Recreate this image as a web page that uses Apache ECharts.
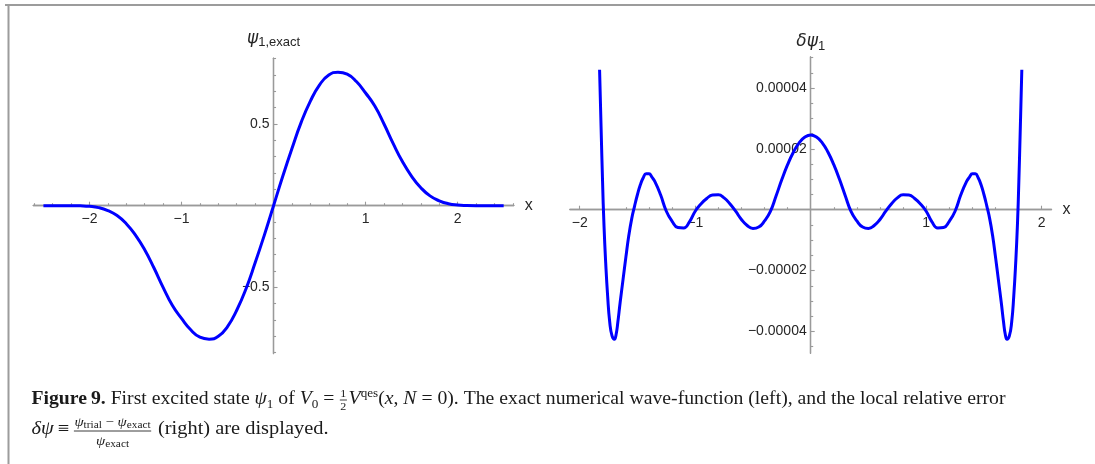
<!DOCTYPE html>
<html>
<head>
<meta charset="utf-8">
<script src="https://cdn.jsdelivr.net/npm/echarts@6/dist/echarts.min.js"></script>
<style>
  html, body { margin: 0; padding: 0; background: #ffffff; }
  #chart { width: 1095px; height: 464px; }
</style>
</head>
<body>
<div id="chart"></div>
<script>
// Exact first excited state, sampled every 0.1 on [-2.5, 2.5]
const psiX = [-2.5, -2.4, -2.3, -2.2, -2.1, -2.0, -1.9, -1.8, -1.7, -1.6, -1.5, -1.4, -1.3, -1.2, -1.1,
  -1.0, -0.9, -0.8, -0.7, -0.6, -0.5, -0.4, -0.3, -0.2, -0.1, 0,
  0.1, 0.2, 0.3, 0.4, 0.5, 0.6, 0.7, 0.8, 0.9, 1.0, 1.1, 1.2, 1.3, 1.4, 1.5, 1.6, 1.7, 1.8, 1.9,
  2.0, 2.1, 2.2, 2.3, 2.4, 2.5];
const psiY = [0, 0, 0, 0, -0.001, -0.004, -0.012, -0.03, -0.06, -0.11, -0.18, -0.27, -0.38, -0.50, -0.61,
  -0.69, -0.76, -0.805, -0.817, -0.80, -0.74, -0.64, -0.51, -0.35, -0.18, 0,
  0.18, 0.35, 0.51, 0.64, 0.74, 0.80, 0.817, 0.805, 0.76, 0.69, 0.61, 0.50, 0.38, 0.27, 0.18, 0.11, 0.06, 0.03, 0.012,
  0.004, 0.001, 0, 0, 0, 0];

// Local relative error of the trial function
const errX = [-1.828, -1.815, -1.802, -1.790, -1.775, -1.758, -1.740, -1.720, -1.700, -1.685, -1.670, -1.650,
  -1.625, -1.600, -1.575, -1.550, -1.525, -1.500, -1.475, -1.450, -1.425, -1.400, -1.375, -1.350, -1.300,
  -1.250, -1.200, -1.150, -1.100, -1.050, -1.000, -0.950, -0.900, -0.850, -0.800, -0.750, -0.700, -0.650,
  -0.600, -0.550, -0.500, -0.450, -0.400, -0.350, -0.300, -0.250, -0.200, -0.150, -0.100, -0.050, 0,
  0.050, 0.100, 0.150, 0.200, 0.250, 0.300, 0.350, 0.400, 0.450, 0.500, 0.550, 0.600, 0.650, 0.700, 0.750,
  0.800, 0.850, 0.900, 0.950, 1.000, 1.050, 1.100, 1.150, 1.200, 1.250, 1.300, 1.350, 1.375, 1.400, 1.425,
  1.450, 1.475, 1.500, 1.525, 1.550, 1.575, 1.600, 1.625, 1.650, 1.670, 1.685, 1.700, 1.720, 1.740, 1.758,
  1.775, 1.790, 1.802, 1.815, 1.828];
const errY = [4.60e-5, 2.70e-5, 0.90e-5, -0.50e-5, -1.75e-5, -2.85e-5, -3.70e-5, -4.15e-5, -4.26e-5, -4.10e-5, -3.70e-5, -3.05e-5,
  -2.30e-5, -1.55e-5, -0.85e-5, -0.30e-5, 0.12e-5, 0.50e-5, 0.82e-5, 1.05e-5, 1.18e-5, 1.18e-5, 1.07e-5, 0.93e-5, 0.49e-5,
  -0.05e-5, -0.38e-5, -0.585e-5, -0.60e-5, -0.40e-5, -0.05e-5, 0.19e-5, 0.37e-5, 0.48e-5, 0.49e-5, 0.39e-5, 0.195e-5, -0.05e-5,
  -0.32e-5, -0.52e-5, -0.615e-5, -0.57e-5, -0.37e-5, -0.066e-5, 0.45e-5, 0.99e-5, 1.48e-5, 1.89e-5, 2.20e-5, 2.39e-5, 2.46e-5,
  2.39e-5, 2.20e-5, 1.89e-5, 1.48e-5, 0.99e-5, 0.45e-5, -0.066e-5, -0.37e-5, -0.57e-5, -0.615e-5, -0.52e-5, -0.32e-5, -0.05e-5, 0.195e-5, 0.39e-5,
  0.49e-5, 0.48e-5, 0.37e-5, 0.19e-5, -0.05e-5, -0.40e-5, -0.60e-5, -0.585e-5, -0.38e-5, -0.05e-5, 0.49e-5, 0.93e-5, 1.07e-5, 1.18e-5, 1.18e-5,
  1.05e-5, 0.82e-5, 0.50e-5, 0.12e-5, -0.30e-5, -0.85e-5, -1.55e-5, -2.30e-5, -3.05e-5, -3.70e-5, -4.10e-5, -4.26e-5, -4.15e-5, -3.70e-5, -2.85e-5,
  -1.75e-5, -0.50e-5, 0.90e-5, 2.70e-5, 4.60e-5];

// Tick positions
const psiXMajor = [-2, -1, 1, 2];
const psiXMinor = [-2.6, -2.4, -2.2, -1.8, -1.6, -1.4, -1.2, -0.8, -0.6, -0.4, -0.2,
  0.2, 0.4, 0.6, 0.8, 1.2, 1.4, 1.6, 1.8, 2.2, 2.4, 2.6];
const psiYMajor = [-0.5, 0.5];
const psiYMinor = [-0.9, -0.8, -0.7, -0.6, -0.4, -0.3, -0.2, -0.1, 0.1, 0.2, 0.3, 0.4, 0.6, 0.7, 0.8, 0.9];
const errXMajor = [-2, -1, 1, 2];
const errXMinor = [-1.8, -1.6, -1.4, -1.2, -0.8, -0.6, -0.4, -0.2, 0.2, 0.4, 0.6, 0.8, 1.2, 1.4, 1.6, 1.8];
const errYMajor = [-4e-5, -2e-5, 2e-5, 4e-5];
const errYMinor = [-4.5e-5, -3.5e-5, -3e-5, -2.5e-5, -1.5e-5, -1e-5, -0.5e-5,
  0.5e-5, 1e-5, 1.5e-5, 2.5e-5, 3e-5, 3.5e-5, 4.5e-5, 5e-5];

const AXIS_GRAY = '#9a9a9a';
const LABEL_INK = '#262626';
const CURVE_BLUE = '#0000ff';

const fmtSigned = (digits) => (v) => (v < 0 ? '\u2212' : '') + Math.abs(v).toFixed(digits);

// plot frames and their value ranges
const psiFrame = { left: 33.3, top: 58.2, width: 480.5, height: 295.3, x: [-2.61, 2.61], y: [-0.905, 0.903] };
const errFrame = { left: 569.9, top: 57, width: 481.6, height: 296.3, x: [-2.085, 2.085], y: [-4.72e-5, 5.02e-5] };

const grids = [], xAxes = [], yAxes = [];
function box(f) { return { left: f.left, top: f.top, width: f.width, height: f.height }; }
function hidden(min, max, grid) {
  return { type: 'value', gridIndex: grid, min: min, max: max, show: false, splitLine: { show: false } };
}
function lineAxis(min, max, grid, ticks, len, extra) {
  return Object.assign({
    type: 'value', gridIndex: grid, min: min, max: max,
    splitLine: { show: false },
    axisLine: { show: true, onZero: true, lineStyle: { color: AXIS_GRAY, width: 1.3 } },
    axisTick: { show: true, inside: true, length: len, customValues: ticks, lineStyle: { color: AXIS_GRAY, width: 1.1 } },
    axisLabel: { show: false }
  }, extra || {});
}
function labelAxis(min, max, grid, ticks, digits, margin, position) {
  return {
    type: 'value', gridIndex: grid, min: min, max: max, position: position,
    splitLine: { show: false }, axisLine: { show: false }, axisTick: { show: false },
    axisLabel: { show: true, customValues: ticks, formatter: fmtSigned(digits), margin: margin,
      fontFamily: 'Liberation Sans', fontSize: 14, color: LABEL_INK }
  };
}
const xName = {
  name: 'x', nameLocation: 'end', nameGap: 11,
  nameTextStyle: { fontFamily: 'Liberation Sans', fontSize: 16, color: LABEL_INK, verticalAlign: 'middle' }
};
function yName(main, sub, gap) {
  return {
    name: '{a|' + main + '}{b|' + sub + '}', nameLocation: 'end', nameGap: gap,
    nameTextStyle: {
      rich: {
        a: { fontFamily: 'DejaVu Sans', fontStyle: 'italic', fontSize: 17, color: LABEL_INK },
        b: { fontFamily: 'Liberation Sans', fontSize: 13, color: LABEL_INK, padding: [9, 0, 0, 0] }
      }
    }
  };
}

// Each plot: main grid (curve, axis lines, major ticks, names), a twin for minor ticks,
// and two label grids whose edges sit on the zero lines so tick labels follow the axes.
function buildPlot(f, xMaj, xMin, yMaj, yMin, xDigits, yDigits, yTitle) {
  const g0 = grids.length;
  grids.push(box(f), box(f));
  xAxes.push(lineAxis(f.x[0], f.x[1], g0, xMaj, 4, xName), lineAxis(f.x[0], f.x[1], g0 + 1, xMin, 2.5));
  yAxes.push(lineAxis(f.y[0], f.y[1], g0, yMaj, 4, yTitle), lineAxis(f.y[0], f.y[1], g0 + 1, yMin, 2.5));

  const zeroX = f.left + (0 - f.x[0]) / (f.x[1] - f.x[0]) * f.width;
  const zeroY = f.top + (f.y[1] - 0) / (f.y[1] - f.y[0]) * f.height;
  grids.push({ left: f.left, top: f.top, width: f.width, height: zeroY - f.top });
  xAxes.push(labelAxis(f.x[0], f.x[1], g0 + 2, xMaj, xDigits, 6, 'bottom'));
  yAxes.push(hidden(0, f.y[1], g0 + 2));
  grids.push({ left: zeroX, top: f.top, width: f.left + f.width - zeroX, height: f.height });
  xAxes.push(hidden(0, f.x[1], g0 + 3));
  yAxes.push(labelAxis(f.y[0], f.y[1], g0 + 3, yMaj, yDigits, 4, 'left'));
  return g0;
}
const gPsi = buildPlot(psiFrame, psiXMajor, psiXMinor, psiYMajor, psiYMinor, 0, 1, yName('\u03c8', '1,exact', 9));
const gErr = buildPlot(errFrame, errXMajor, errXMinor, errYMajor, errYMinor, 0, 5, yName('\u03b4\u03c8', '1', 4));

const option = {
  animation: false,
  backgroundColor: '#ffffff',
  grid: grids,
  xAxis: xAxes,
  yAxis: yAxes,
  series: [
    {
      type: 'line', xAxisIndex: gPsi, yAxisIndex: gPsi, z: 5,
      data: psiX.map((x, i) => [x, psiY[i]]),
      showSymbol: false, smooth: 0.5,
      lineStyle: { color: CURVE_BLUE, width: 3 }
    },
    {
      type: 'line', xAxisIndex: gErr, yAxisIndex: gErr, z: 5,
      data: errX.map((x, i) => [x, errY[i]]),
      showSymbol: false, smooth: 0.5,
      lineStyle: { color: CURVE_BLUE, width: 3 }
    }
  ]
};

// ---- caption: laid out piece by piece so sub/superscripts and fractions sit right ----
const SERIF = 'Liberation Serif';
const BASE = 18;
const measureCtx = document.createElement('canvas').getContext('2d');
function fontOf(p) {
  return (p.i ? 'italic ' : '') + (p.b ? 'bold ' : '') + (p.s || BASE) + 'px "' + SERIF + '"';
}
function widthOf(p) { measureCtx.font = fontOf(p); return measureCtx.measureText(p.t).width; }
function textEl(p, x, baseline) {
  const size = p.s || BASE;
  return {
    type: 'text', x: x, y: baseline + (p.dy || 0) - 0.3375 * size,
    style: { text: p.t, fontFamily: SERIF, fontSize: size, fontStyle: p.i ? 'italic' : 'normal',
      fontWeight: p.b ? 'bold' : 'normal', fill: '#1a1a1a', verticalAlign: 'middle', align: 'left' }
  };
}
function runWidth(run) { return run.reduce((w, p) => w + widthOf(p), 0); }
function placeRun(run, x, baseline, out) {
  run.forEach((p) => { out.push(textEl(p, x, baseline)); x += widthOf(p); });
  return x;
}
function layoutLine(segs, baseline, out) {
  let x = 0;
  segs.forEach((seg) => {
    if (seg.frac) {
      const [num, den] = seg.frac;
      const wn = runWidth(num), wd = runWidth(den);
      const w = Math.max(wn, wd) + 2;
      placeRun(num, x + (w - wn) / 2, baseline + seg.numDy, out);
      placeRun(den, x + (w - wd) / 2, baseline + seg.denDy, out);
      out.push({ type: 'line', shape: { x1: x + 0.5, y1: baseline + seg.barDy, x2: x + w - 0.5, y2: baseline + seg.barDy },
        style: { stroke: '#1a1a1a', lineWidth: 0.8 } });
      x += w + 1;
    } else {
      out.push(textEl(seg, x, baseline));
      x += widthOf(seg);
    }
  });
  return x;
}
const line1 = [
  { t: 'Figure\u20099.', b: true },
  { t: ' First excited state ' },
  { t: '\u03c8', i: true }, { t: '1', s: 12, dy: 4 },
  { t: ' of ' },
  { t: 'V', i: true }, { t: '0', s: 12, dy: 4 },
  { t: ' = ' },
  { frac: [[{ t: '1', s: 11 }], [{ t: '2', s: 11 }]], numDy: -7, denDy: 6, barDy: -5 },
  { t: 'V', i: true }, { t: 'qes', s: 12, dy: -7 },
  { t: '(' }, { t: 'x', i: true }, { t: ', ' }, { t: 'N', i: true },
  { t: ' = 0). The exact numerical wave-function (left), and the local relative error' }
];
const line2 = [
  { t: '\u03b4\u03c8', i: true },
  { t: '\u2009\u2261\u2009' },
  { frac: [
      [{ t: '\u03c8', i: true, s: 13 }, { t: 'trial', s: 10, dy: 2 }, { t: ' \u2212 ', s: 13 },
       { t: '\u03c8', i: true, s: 13 }, { t: 'exact', s: 10, dy: 2 }],
      [{ t: '\u03c8', i: true, s: 13 }, { t: 'exact', s: 10, dy: 2 }]
    ], numDy: -8, denDy: 11, barDy: -4 },
  { t: ' (right) are displayed.' }
];
const cap1 = [], cap2 = [];
const w1 = layoutLine(line1, 405, cap1);
const w2 = layoutLine(line2, 435, cap2);

option.graphic = { elements: [
  { type: 'line', shape: { x1: 5, y1: 5, x2: 1095, y2: 5 }, style: { stroke: '#9c9c9c', lineWidth: 2 } },
  { type: 'line', shape: { x1: 8.5, y1: 5, x2: 8.5, y2: 464 }, style: { stroke: '#9c9c9c', lineWidth: 2 } },
  { type: 'group', x: 31.5, y: 0, scaleX: 974 / w1, children: cap1 },
  { type: 'group', x: 31.5, y: 0, scaleX: 297 / w2, children: cap2 }
] };

const chart = echarts.init(document.getElementById('chart'), null, { renderer: 'canvas' });
chart.setOption(option);
</script>
</body>
</html>
